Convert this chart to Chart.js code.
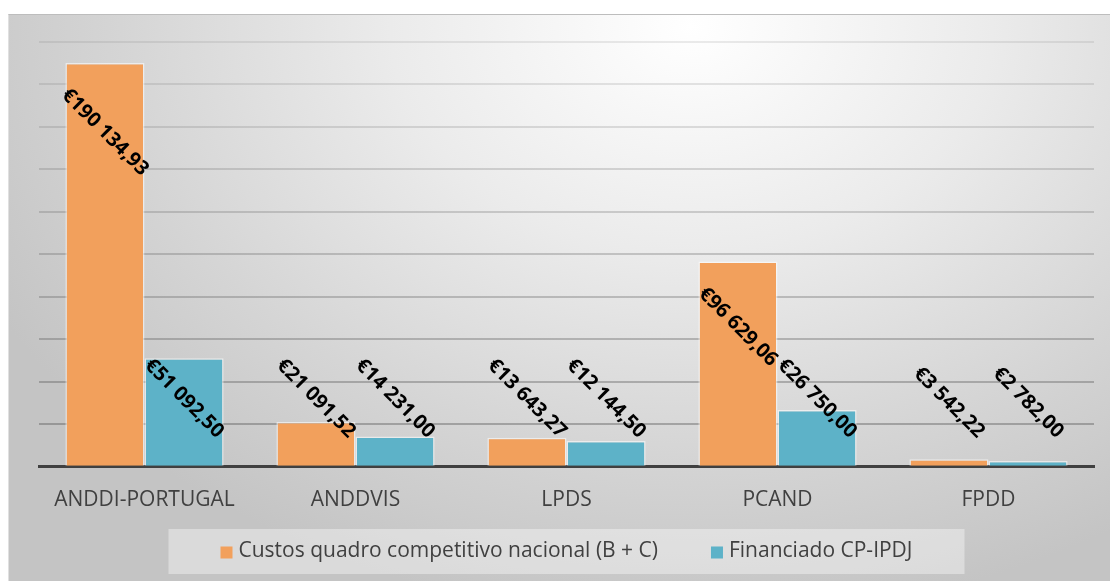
<!DOCTYPE html>
<html>
<head>
<meta charset="utf-8">
<script src="https://cdn.jsdelivr.net/npm/chart.js@4/dist/chart.umd.min.js"></script>
<style>
  html, body { margin: 0; padding: 0; background: #ffffff; width: 1110px; height: 581px; overflow: hidden; }
  #wrap {
    position: absolute; left: 8px; top: 14px; width: 1102px; height: 567px;
    box-sizing: border-box;
    border-top: 1px solid #bdbdbd; border-left: 1px solid #e0e0e0;
    background: radial-gradient(ellipse 72% 105% at 62% 2%, #ffffff 0%, #ebebeb 38%, #d5d5d5 72%, #c4c4c4 100%);
  }
  canvas { display: block; }
</style>
</head>
<body>
<div id="wrap"><canvas id="c"></canvas></div>
<script>
const categories = ['ANDDI-PORTUGAL', 'ANDDVIS', 'LPDS', 'PCAND', 'FPDD'];
const custos = [190134.93, 21091.52, 13643.27, 96629.06, 3542.22];
const financiado = [51092.50, 14231.00, 12144.50, 26750.00, 2782.00];
const seriesNames = ['Custos quadro competitivo nacional (B + C)', 'Financiado CP-IPDJ'];
const yMax = 200000;
const yStep = 20000;

const colors = ['#F2A05C', '#5DB2C8'];
const FONT = '"Open Sans", "DejaVu Sans", sans-serif';

function fmt(v) {
  const parts = v.toFixed(2).split('.');
  return '€' + parts[0].replace(/\B(?=(\d{3})+(?!\d))/g, ' ') + ',' + parts[1];
}

const labelPlugin = {
  id: 'rotLabels',
  afterDatasetsDraw(chart) {
    const ctx = chart.ctx;
    const fs = 20;
    ctx.save();
    ctx.font = 'bold ' + fs + 'px ' + FONT;
    ctx.fillStyle = '#000000';
    ctx.textAlign = 'center';
    ctx.textBaseline = 'middle';
    chart.data.datasets.forEach((ds, i) => {
      const meta = chart.getDatasetMeta(i);
      meta.data.forEach((el, j) => {
        const t = fmt(ds.data[j]);
        const w = ctx.measureText(t).width;
        const bh = (w + fs) * Math.SQRT1_2;
        const cy = Math.min(el.y + 22 + bh / 2, el.base - 24 - bh / 2);
        ctx.save();
        ctx.translate(el.x, cy);
        ctx.rotate(Math.PI / 4);
        ctx.fillText(t, 0, 0);
        ctx.restore();
      });
    });
    ctx.restore();
  }
};

const legendPlugin = {
  id: 'boxLegend',
  afterDraw(chart) {
    const ctx = chart.ctx;
    const fs = 21;
    ctx.save();
    ctx.font = fs + 'px ' + FONT;
    const box = 12, gapText = 6, gapItem = 53, padX = 52, h = 45;
    const items = chart.data.datasets.map(ds => ({ label: ds.label, color: ds.backgroundColor, w: ctx.measureText(ds.label).width }));
    let content = 0;
    items.forEach((it, k) => { content += box + gapText + it.w + (k < items.length - 1 ? gapItem : 0); });
    const bw = content + padX * 2;
    const ca = chart.chartArea;
    const cx = (ca.left + ca.right) / 2;
    const top = chart.height - 7 - h;
    ctx.fillStyle = 'rgba(255,255,255,0.38)';
    ctx.fillRect(cx - bw / 2, top, bw, h);
    let x = cx - content / 2;
    const my = top + h / 2;
    ctx.textBaseline = 'middle';
    ctx.textAlign = 'left';
    items.forEach(it => {
      ctx.fillStyle = it.color;
      ctx.fillRect(x, my - box / 2 + 1, box, box);
      x += box + gapText;
      ctx.fillStyle = '#404040';
      ctx.fillText(it.label, x, my);
      x += it.w + gapItem;
    });
    ctx.restore();
  }
};

const gridAlpha = (v) => {
  const f = v / yMax; // 0 at bottom, 1 at top
  return 'rgba(90,90,90,' + (0.45 - 0.33 * f).toFixed(3) + ')';
};

new Chart(document.getElementById('c'), {
  type: 'bar',
  data: {
    labels: categories,
    datasets: [
      { label: seriesNames[0], data: custos, backgroundColor: colors[0], borderColor: 'rgba(255,255,255,0.55)', borderWidth: 1.5, categoryPercentage: 0.75, barPercentage: 1.0 },
      { label: seriesNames[1], data: financiado, backgroundColor: colors[1], borderColor: 'rgba(255,255,255,0.55)', borderWidth: 1.5, categoryPercentage: 0.75, barPercentage: 1.0 }
    ]
  },
  options: {
    responsive: true,
    maintainAspectRatio: false,
    animation: false,
    layout: { padding: { left: 30, right: 16, top: 27, bottom: 55 } },
    plugins: {
      legend: { display: false },
      tooltip: { enabled: false }
    },
    scales: {
      x: {
        grid: { display: false },
        border: { display: true, color: '#404040', width: 3 },
        ticks: { color: '#404040', font: { family: FONT, size: 21 }, padding: 13 }
      },
      y: {
        min: 0, max: yMax,
        ticks: { display: false, stepSize: yStep },
        border: { display: false },
        grid: { color: (c) => gridAlpha(c.tick.value), lineWidth: 2, drawTicks: false }
      }
    }
  },
  plugins: [labelPlugin, legendPlugin]
});
</script>
</body>
</html>
